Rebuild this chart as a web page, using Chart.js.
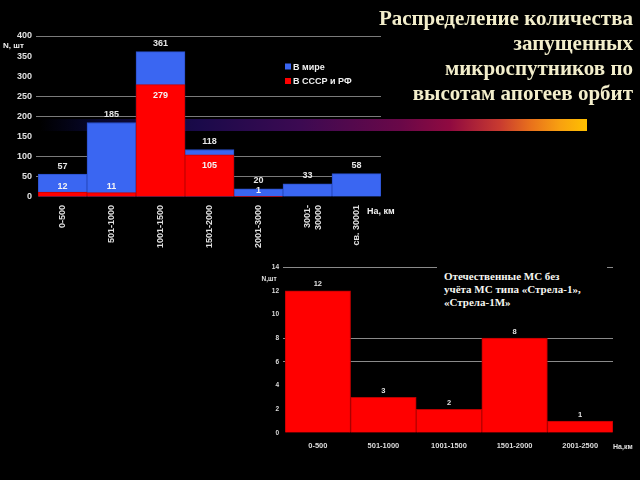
<!DOCTYPE html>
<html><head><meta charset="utf-8">
<script src="https://cdn.jsdelivr.net/npm/chart.js@4/dist/chart.umd.min.js"></script>
<style>
html,body{margin:0;padding:0;background:#000;width:640px;height:480px;overflow:hidden;}
#title{position:absolute;right:7px;top:6px;text-align:right;font:bold 21px 'Liberation Serif',serif;line-height:25px;color:#f3eecb;white-space:nowrap;}
#grad{position:absolute;left:40px;top:119px;width:547px;height:12px;
 background:linear-gradient(to right,#000 0%,#08082e 11%,#1a0a4a 29%,#3c0a52 47.5%,#6a0848 66%,#900a40 75%,#c83a30 84%,#e8701c 89.6%,#f8a010 95%,#ffc000 100%);}
#c1{position:absolute;left:0;top:0;}
#c2{position:absolute;left:250px;top:255px;}
#note{position:absolute;left:437px;top:262px;width:163px;height:46px;background:#000;padding:8px 0 0 7px;
 font:bold 11px 'Liberation Serif',serif;line-height:12.8px;color:#f6f6f0;white-space:nowrap;}
</style></head>
<body>
<div id="grad"></div>
<canvas id="c1" width="400" height="260"></canvas>
<div id="title">Распределение количества<br>запущенных<br>микроспутников по<br>высотам апогеев орбит</div>
<canvas id="c2" width="390" height="225"></canvas>
<div id="note">Отечественные МС без<br>учёта МС типа «Стрела-1»,<br>«Стрела-1М»</div>
<script>
// ---- data: chart 1 ----
const categories1 = ['0-500','501-1000','1001-1500','1501-2000','2001-3000',['3001-','30000'],'св. 30001'];
const worldCounts = [57,185,361,118,20,33,58];
const ussrCounts = [12,11,279,105,1,null,null];
const seriesNames1 = ['В мире','В СССР и РФ'];
const yTicks1Visible = [50,100,200,250,400];
// ---- data: chart 2 ----
const categories2 = ['0-500','501-1000','1001-1500','1501-2000','2001-2500'];
const domesticCounts = [12,3,2,8,1];
const yTicks2Visible = [6,8,14];

Chart.defaults.font.family = "'Liberation Sans', Arial, sans-serif";
Chart.defaults.font.weight = 'bold';
Chart.defaults.color = '#dcdcdc';

const BLUE = '#3a66f2', RED = '#ff0000';

const labels1 = {
  id:'labels1',
  afterDatasetsDraw(chart){
    const ctx = chart.ctx;
    ctx.save();
    ctx.font = "bold 9px 'Liberation Sans', Arial, sans-serif";
    ctx.textAlign = 'center'; ctx.textBaseline = 'middle';
    chart.getDatasetMeta(0).data.forEach((bar,i)=>{
      const v = worldCounts[i]; if (v==null) return;
      ctx.fillStyle = '#e6e6e6';
      ctx.fillText(String(v), bar.x, bar.y - 8);
    });
    chart.getDatasetMeta(1).data.forEach((bar,i)=>{
      const v = ussrCounts[i]; if (v==null) return;
      const h = bar.base - bar.y;
      ctx.fillStyle = '#f4f4f4';
      ctx.fillText(String(v), bar.x, h > 25 ? bar.y + 11 : bar.y - 6);
    });
    // legend
    const items = [[BLUE, seriesNames1[0], 67], [RED, seriesNames1[1], 81.5]];
    ctx.textAlign = 'left';
    items.forEach(([c,t,y])=>{
      ctx.fillStyle = c; ctx.fillRect(285, y-3.5, 6, 6);
      ctx.fillStyle = '#f0f0f0'; ctx.fillText(t, 293, y+0.5);
    });
    // axis titles
    ctx.font = "bold 8px 'Liberation Sans', Arial, sans-serif";
    ctx.fillStyle = '#f0f0f0';
    ctx.fillText('N, шт', 3, 45.5);
    ctx.font = "bold 9px 'Liberation Sans', Arial, sans-serif";
    ctx.fillText('Нa, км', 367, 212);
    ctx.restore();
  }
};

new Chart(document.getElementById('c1'), {
  type:'bar',
  data:{
    labels: categories1,
    datasets:[
      {label:seriesNames1[0], data:worldCounts, backgroundColor:BLUE, borderColor:'#2a4fc8', borderWidth:1, grouped:false, order:2, barPercentage:1, categoryPercentage:1},
      {label:seriesNames1[1], data:ussrCounts, backgroundColor:RED, borderColor:'#c80000', borderWidth:1, grouped:false, order:1, barPercentage:1, categoryPercentage:1}
    ]
  },
  options:{
    responsive:false, animation:false, devicePixelRatio:1,
    layout:{padding:{left:0, top:36, right:19, bottom:0}},
    plugins:{legend:{display:false}, tooltip:{enabled:false}},
    scales:{
      x:{
        grid:{display:false, drawTicks:false}, border:{display:false},
        ticks:{minRotation:90, maxRotation:90, autoSkip:false, padding:8, color:'#e0e0e0', font:{size:9, weight:'bold'}},
        afterFit(s){ s.height = 63; }
      },
      y:{
        min:0, max:400,
        border:{display:false},
        grid:{tickLength:2, lineWidth:1, color:(c)=> yTicks1Visible.includes(c.tick && c.tick.value) ? '#7a7a7a' : 'rgba(0,0,0,0)'},
        ticks:{stepSize:50, padding:4, color:'#e0e0e0', font:{size:9, weight:'bold'}},
        afterFit(s){ s.width = 38; }
      }
    }
  },
  plugins:[labels1]
});

const labels2 = {
  id:'labels2',
  afterDatasetsDraw(chart){
    const ctx = chart.ctx;
    ctx.save();
    ctx.font = "bold 7.5px 'Liberation Sans', Arial, sans-serif";
    ctx.textAlign = 'center'; ctx.textBaseline = 'middle';
    ctx.fillStyle = '#e0e0e0';
    chart.getDatasetMeta(0).data.forEach((bar,i)=>{
      ctx.fillText(String(domesticCounts[i]), bar.x, bar.y - 6.5);
    });
    ctx.textAlign = 'left';
    ctx.font = "bold 6.5px 'Liberation Sans', Arial, sans-serif";
    ctx.fillText('N,шт', 11.5, 24.7);
    ctx.font = "bold 7px 'Liberation Sans', Arial, sans-serif";
    ctx.fillText('Нa,км', 363, 192);
    ctx.restore();
  }
};

new Chart(document.getElementById('c2'), {
  type:'bar',
  data:{
    labels: categories2,
    datasets:[{label:'Отечественные МС', data:domesticCounts, backgroundColor:RED, borderColor:'#b80000', borderWidth:1, barPercentage:1, categoryPercentage:1}]
  },
  options:{
    responsive:false, animation:false, devicePixelRatio:1,
    layout:{padding:{left:0, top:12, right:27, bottom:0}},
    plugins:{legend:{display:false}, tooltip:{enabled:false}},
    scales:{
      x:{
        grid:{display:false, drawTicks:false}, border:{display:false},
        ticks:{maxRotation:0, autoSkip:false, padding:8, color:'#dcdcdc', font:{size:7.5, weight:'bold'}},
        afterFit(s){ s.height = 47; }
      },
      y:{
        min:0, max:14,
        border:{display:false},
        grid:{tickLength:2, color:(c)=> yTicks2Visible.includes(c.tick && c.tick.value) ? '#8a8a8a' : 'rgba(0,0,0,0)'},
        ticks:{stepSize:2, padding:4, color:'#dcdcdc', font:{size:6.5, weight:'bold'}},
        afterFit(s){ s.width = 35; }
      }
    }
  },
  plugins:[labels2]
});
</script>
</body></html>
